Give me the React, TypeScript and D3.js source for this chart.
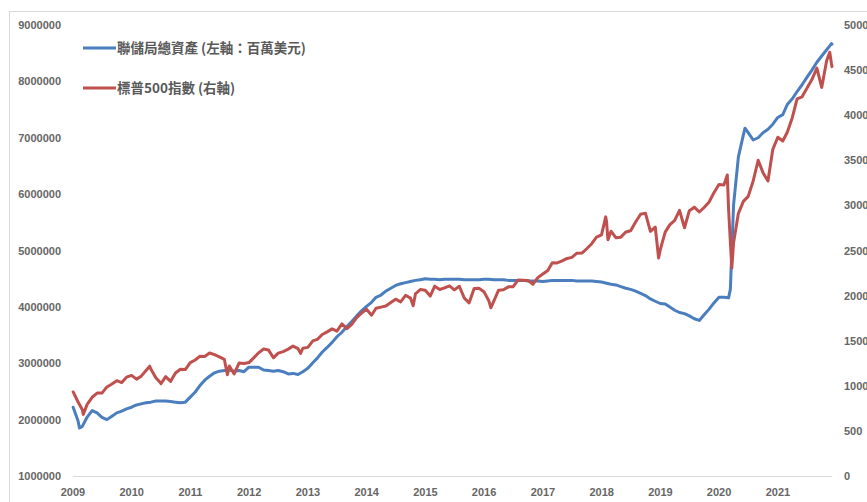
import React, { useEffect, useRef } from 'react';
import * as d3 from 'd3';

// first month of the monthly series (month-end values, Jan 2009 onwards)
const firstYear = 2009;
const axisStart = '2009-01-01';
const axisEnd = '2021-12-03';

const yearTicks = [2009, 2010, 2011, 2012, 2013, 2014, 2015, 2016, 2017, 2018, 2019, 2020, 2021];
const leftTicks = [1000000, 2000000, 3000000, 4000000, 5000000, 6000000, 7000000, 8000000, 9000000];
const rightTicks = [0, 500, 1000, 1500, 2000, 2500, 3000, 3500, 4000, 4500, 5000];

// Fed total assets, millions USD, month end
const fedMonthly = [
  1990000, 1880000, 2050000, 2160000, 2120000, 2040000, 2000000, 2060000, 2120000, 2150000, 2190000, 2220000,
  2260000, 2280000, 2300000, 2310000, 2330000, 2330000, 2330000, 2320000, 2310000, 2300000, 2310000, 2400000,
  2490000, 2600000, 2700000, 2770000, 2830000, 2860000, 2870000, 2880000, 2860000, 2870000, 2850000, 2930000,
  2930000, 2930000, 2880000, 2870000, 2860000, 2870000, 2850000, 2810000, 2820000, 2800000, 2850000, 2910000,
  3010000, 3090000, 3200000, 3280000, 3370000, 3470000, 3550000, 3650000, 3740000, 3840000, 3930000, 4010000,
  4080000, 4170000, 4210000, 4280000, 4330000, 4380000, 4410000, 4430000, 4450000, 4470000, 4480000, 4500000,
  4490000, 4490000, 4480000, 4490000, 4490000, 4490000, 4490000, 4480000, 4480000, 4480000, 4480000, 4490000,
  4490000, 4480000, 4480000, 4480000, 4470000, 4470000, 4470000, 4470000, 4460000, 4460000, 4460000, 4450000,
  4460000, 4470000, 4470000, 4470000, 4470000, 4470000, 4460000, 4460000, 4460000, 4460000, 4450000, 4440000,
  4420000, 4400000, 4390000, 4360000, 4330000, 4310000, 4280000, 4240000, 4200000, 4140000, 4100000, 4060000,
  4050000, 4000000, 3940000, 3900000, 3880000, 3840000, 3790000, 3760000, 3860000, 3960000, 4070000, 4170000,
  4170000, 4160000, 5810000, 6660000, 7050000, 7090000, 6960000, 7000000, 7090000, 7150000, 7240000, 7360000,
  7410000, 7590000, 7690000, 7820000, 7940000, 8070000, 8200000, 8340000, 8450000, 8560000, 8670000,
];
const fedExtraDates = ['2009-01-02', '2009-02-11', '2020-03-11', '2020-06-10', '2021-12-03'];
const fedExtraValues = [2220000, 1850000, 4310000, 7170000, 8660000];

// S&P 500, month-end close
const spxMonthly = [
  825.9, 735.1, 797.9, 872.8, 919.1, 919.3, 987.5, 1020.6, 1057.1, 1036.2, 1095.6, 1115.1,
  1073.9, 1104.5, 1169.4, 1186.7, 1089.4, 1030.7, 1101.6, 1049.3, 1141.2, 1183.3, 1180.6, 1257.6,
  1286.1, 1327.2, 1325.8, 1363.6, 1345.2, 1320.6, 1292.3, 1218.9, 1131.4, 1253.3, 1247.0, 1257.6,
  1312.4, 1365.7, 1408.5, 1397.9, 1310.3, 1362.2, 1379.3, 1406.6, 1440.7, 1412.2, 1416.2, 1426.2,
  1498.1, 1514.7, 1569.2, 1597.6, 1630.7, 1606.3, 1685.7, 1633.0, 1681.6, 1756.5, 1805.8, 1848.4,
  1782.6, 1859.5, 1872.3, 1883.9, 1923.6, 1960.2, 1930.7, 2003.4, 1972.3, 2018.1, 2067.6, 2058.9,
  1995.0, 2104.5, 2067.9, 2085.5, 2107.4, 2063.1, 2103.8, 1972.2, 1920.0, 2079.4, 2080.4, 2043.9,
  1940.2, 1932.2, 2059.7, 2065.3, 2096.9, 2098.9, 2173.6, 2170.9, 2168.3, 2126.2, 2199.0, 2238.8,
  2278.9, 2363.6, 2362.7, 2384.2, 2411.8, 2423.4, 2470.3, 2471.7, 2519.4, 2575.3, 2647.6, 2673.6,
  2823.8, 2713.8, 2640.9, 2648.1, 2705.3, 2718.4, 2816.3, 2901.5, 2914.0, 2711.7, 2760.2, 2506.9,
  2704.1, 2784.5, 2834.4, 2945.8, 2752.1, 2941.8, 2980.4, 2926.5, 2976.7, 3037.6, 3141.0, 3230.8,
  3225.5, 2954.2, 2584.6, 2912.4, 3044.3, 3100.3, 3271.1, 3500.3, 3363.0, 3270.0, 3621.6, 3756.1,
  3714.2, 3811.2, 3972.9, 4181.2, 4204.1, 4297.5, 4395.3, 4522.7, 4307.5, 4605.4, 4567.0,
];
const spxExtraDates = [
  '2009-01-02', '2009-03-06', '2010-04-23', '2010-07-02', '2011-08-19', '2012-11-16', '2014-10-17',
  '2016-02-12', '2018-01-26', '2018-02-09', '2018-12-21', '2020-02-21', '2020-03-20', '2021-11-19', '2021-12-03',
];
const spxExtraValues = [
  931.8, 683.4, 1217.3, 1022.6, 1123.5, 1359.9, 1886.8,
  1864.8, 2872.9, 2619.6, 2416.6, 3337.8, 2304.9, 4698.0, 4538.4,
];

const fedLabel = '聯儲局總資產 (左軸：百萬美元)';
const spxLabel = '標普500指數 (右軸)';

interface Point {
  date: Date;
  value: number;
}

const parseDay = d3.timeParse('%Y-%m-%d');

const buildSeries = (monthly: number[], extraDates: string[], extraValues: number[]): Point[] => {
  const pts: Point[] = monthly.map((v, i) => ({
    date: new Date(firstYear + Math.floor(i / 12), (i % 12) + 1, 0),
    value: v,
  }));
  extraDates.forEach((d, i) => pts.push({ date: parseDay(d) as Date, value: extraValues[i] }));
  return pts.sort((a, b) => +a.date - +b.date);
};

const App: React.FC = () => {
  const svgRef = useRef<SVGSVGElement>(null);

  useEffect(() => {
    if (!svgRef.current) return;
    const svg = d3.select(svgRef.current);
    svg.selectAll('*').remove();

    const width = 867;
    const height = 502;
    const plot = { left: 73, right: 832, top: 25, bottom: 476 };
    const blue = '#4a7ebf';
    const red = '#c0504d';
    const labelColor = '#666666';
    const tickFont = '"Liberation Sans", Arial, sans-serif';
    const cjkFont = '"Noto Sans CJK TC", "Noto Sans CJK SC", sans-serif';

    svg.attr('width', width).attr('height', height);

    // chart area frame (continues past the right/bottom edge)
    svg.append('rect')
      .attr('x', 9.5).attr('y', 11.5)
      .attr('width', 1000).attr('height', 1000)
      .attr('fill', '#ffffff')
      .attr('stroke', '#d9d9d9');

    const x = d3.scaleTime()
      .domain([parseDay(axisStart) as Date, parseDay(axisEnd) as Date])
      .range([plot.left, plot.right]);
    const yLeft = d3.scaleLinear().domain([1000000, 9000000]).range([plot.bottom, plot.top]);
    const yRight = d3.scaleLinear().domain([0, 5000]).range([plot.bottom, plot.top]);

    // bottom axis line
    svg.append('line')
      .attr('x1', plot.left).attr('x2', plot.right)
      .attr('y1', plot.bottom + 0.5).attr('y2', plot.bottom + 0.5)
      .attr('stroke', '#d9d9d9');

    // year labels
    svg.append('g')
      .selectAll('text')
      .data(yearTicks)
      .enter()
      .append('text')
      .attr('x', d => x(new Date(d, 0, 1)))
      .attr('y', 496)
      .attr('text-anchor', 'middle')
      .style('font-family', tickFont)
      .style('font-size', '11px')
      .style('font-weight', 'bold')
      .style('fill', labelColor)
      .text(d => String(d));

    // left axis labels
    svg.append('g')
      .selectAll('text')
      .data(leftTicks)
      .enter()
      .append('text')
      .attr('x', 61)
      .attr('y', d => yLeft(d) + 4)
      .attr('text-anchor', 'end')
      .style('font-family', tickFont)
      .style('font-size', '11px')
      .style('font-weight', 'bold')
      .style('fill', labelColor)
      .text(d => String(d));

    // right axis labels
    svg.append('g')
      .selectAll('text')
      .data(rightTicks)
      .enter()
      .append('text')
      .attr('x', 844)
      .attr('y', d => yRight(d) + 4)
      .attr('text-anchor', 'start')
      .style('font-family', tickFont)
      .style('font-size', '11px')
      .style('font-weight', 'bold')
      .style('fill', labelColor)
      .text(d => String(d));

    const fed = buildSeries(fedMonthly, fedExtraDates, fedExtraValues);
    const spx = buildSeries(spxMonthly, spxExtraDates, spxExtraValues);

    const fedLine = d3.line<Point>().x(d => x(d.date)).y(d => yLeft(d.value));
    const spxLine = d3.line<Point>().x(d => x(d.date)).y(d => yRight(d.value));

    svg.append('path')
      .datum(fed)
      .attr('d', fedLine)
      .attr('fill', 'none')
      .attr('stroke', blue)
      .attr('stroke-width', 3)
      .attr('stroke-linejoin', 'round')
      .attr('stroke-linecap', 'round');

    svg.append('path')
      .datum(spx)
      .attr('d', spxLine)
      .attr('fill', 'none')
      .attr('stroke', red)
      .attr('stroke-width', 3)
      .attr('stroke-linejoin', 'round')
      .attr('stroke-linecap', 'round');

    // legend
    const legend = [
      { label: fedLabel, color: blue, y: 48 },
      { label: spxLabel, color: red, y: 88 },
    ];
    legend.forEach(item => {
      svg.append('line')
        .attr('x1', 83).attr('x2', 116)
        .attr('y1', item.y).attr('y2', item.y)
        .attr('stroke', item.color)
        .attr('stroke-width', 3);
      svg.append('text')
        .attr('x', 117)
        .attr('y', item.y + 5)
        .style('font-family', cjkFont)
        .style('font-size', '13.5px')
        .style('font-weight', 'bold')
        .style('fill', '#595959')
        .text(item.label);
    });
  }, []);

  return <svg ref={svgRef} style={{ position: 'absolute', left: 0, top: 0, display: 'block' }}></svg>;
};

export default App;
